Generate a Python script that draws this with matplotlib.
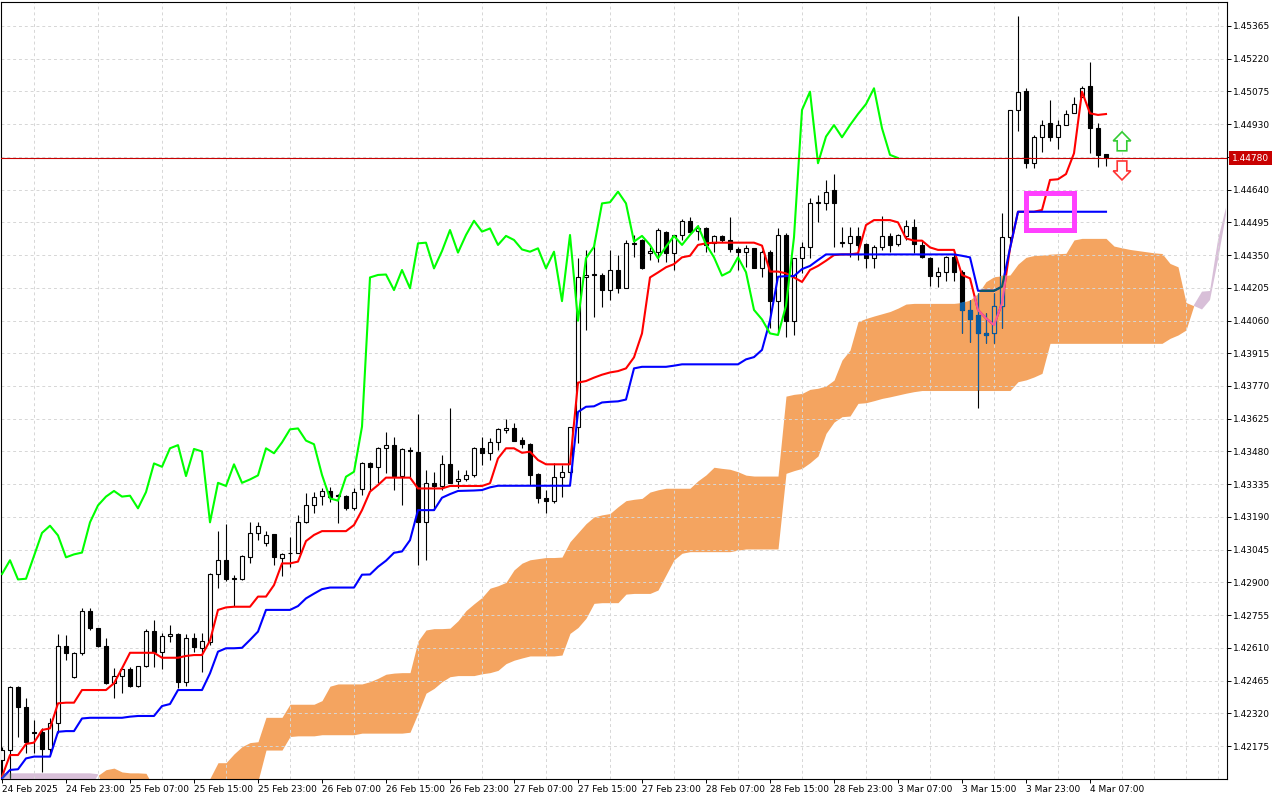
import numpy as np
import matplotlib
matplotlib.use('Agg')
import matplotlib.pyplot as plt
import matplotlib.transforms as mtransforms
from matplotlib.patches import Polygon, Rectangle, PathPatch
from matplotlib.path import Path
from matplotlib.colors import to_rgb

plt.rcParams['font.family'] = ['DejaVu Sans']

# H1 bars from 24 Feb 2025 15:00 to 4 Mar 2025 09:00
opens = [
    1.42113, 1.42157, 1.42435, 1.42349, 1.42236, 1.42235, 1.42160, 1.42275, 1.42619, 1.42482,
    1.42585, 1.42774, 1.42699, 1.42619, 1.42453, 1.42485, 1.42514, 1.42441, 1.42531, 1.42684,
    1.42593, 1.42662, 1.42670, 1.42460, 1.42652, 1.42608, 1.42634, 1.42937, 1.42998, 1.42918,
    1.42915, 1.43014, 1.43119, 1.43073, 1.43113, 1.43008, 1.43030, 1.43029, 1.43166, 1.43241,
    1.43283, 1.43305, 1.43286, 1.43283, 1.43228, 1.43312, 1.43427, 1.43412, 1.43494, 1.43508,
    1.43371, 1.43486, 1.43476, 1.43166, 1.43341, 1.43327, 1.43423, 1.43348, 1.43356, 1.43374,
    1.43494, 1.43472, 1.43520, 1.43575, 1.43582, 1.43531, 1.43512, 1.43380, 1.43272, 1.43262,
    1.43368, 1.43390, 1.43590, 1.44251, 1.44262, 1.44262, 1.44195, 1.44284, 1.44203, 1.44400,
    1.44417, 1.44358, 1.44365, 1.44454, 1.44361, 1.44439, 1.44502, 1.44458, 1.44468, 1.44402,
    1.44435, 1.44417, 1.44375, 1.44365, 1.44380, 1.44291, 1.44365, 1.44146, 1.44439, 1.44059,
    1.44336, 1.44387, 1.44580, 1.44582, 1.44638, 1.44405, 1.44402, 1.44435, 1.44400, 1.44336,
    1.44387, 1.44435, 1.44400, 1.44435, 1.44476, 1.44395, 1.44336, 1.44259, 1.44277, 1.44340,
    1.44274, 1.44107, 1.44085, 1.44003, 1.44003, 1.44125, 1.44429, 1.44993, 1.45079, 1.44760,
    1.44875, 1.44934, 1.44872, 1.44926, 1.44978, 1.45049, 1.45099, 1.44912, 1.44796,
]
highs = [
    1.42170, 1.42441, 1.42441, 1.42389, 1.42290, 1.42253, 1.42297, 1.42670, 1.42667, 1.42590,
    1.42785, 1.42785, 1.42700, 1.42652, 1.42519, 1.42519, 1.42526, 1.42529, 1.42695, 1.42733,
    1.42674, 1.42710, 1.42674, 1.42670, 1.42674, 1.42674, 1.42943, 1.43128, 1.43159, 1.42933,
    1.43021, 1.43169, 1.43169, 1.43129, 1.43113, 1.43029, 1.43102, 1.43198, 1.43294, 1.43299,
    1.43316, 1.43324, 1.43290, 1.43287, 1.43316, 1.43434, 1.43434, 1.43501, 1.43567, 1.43542,
    1.43494, 1.43501, 1.43644, 1.43398, 1.43390, 1.43464, 1.43671, 1.43398, 1.43398, 1.43498,
    1.43542, 1.43538, 1.43585, 1.43624, 1.43604, 1.43542, 1.43516, 1.43383, 1.43309, 1.43427,
    1.43420, 1.43590, 1.44336, 1.44372, 1.44417, 1.44270, 1.44372, 1.44350, 1.44417, 1.44439,
    1.44420, 1.44387, 1.44468, 1.44456, 1.44439, 1.44508, 1.44520, 1.44483, 1.44476, 1.44439,
    1.44439, 1.44520, 1.44385, 1.44395, 1.44382, 1.44372, 1.44372, 1.44468, 1.44447, 1.44336,
    1.44410, 1.44601, 1.44616, 1.44683, 1.44709, 1.44476, 1.44476, 1.44476, 1.44402, 1.44395,
    1.44523, 1.44447, 1.44443, 1.44505, 1.44510, 1.44417, 1.44340, 1.44299, 1.44346, 1.44355,
    1.44284, 1.44151, 1.44181, 1.44092, 1.44181, 1.44535, 1.44993, 1.45409, 1.45089, 1.44882,
    1.44949, 1.45037, 1.44949, 1.44993, 1.45049, 1.45099, 1.45207, 1.44934, 1.44797,
]
lows = [
    1.42032, 1.42032, 1.42216, 1.42142, 1.42142, 1.42061, 1.42142, 1.42231, 1.42556, 1.42478,
    1.42580, 1.42689, 1.42615, 1.42450, 1.42389, 1.42408, 1.42438, 1.42438, 1.42526, 1.42526,
    1.42514, 1.42637, 1.42430, 1.42441, 1.42593, 1.42504, 1.42622, 1.42873, 1.42907, 1.42795,
    1.42910, 1.42984, 1.43088, 1.43061, 1.42977, 1.42928, 1.42970, 1.43029, 1.43161, 1.43206,
    1.43243, 1.43257, 1.43161, 1.43220, 1.43220, 1.43287, 1.43309, 1.43339, 1.43383, 1.43309,
    1.43243, 1.43368, 1.42977, 1.42999, 1.43220, 1.43309, 1.43339, 1.43316, 1.43350, 1.43368,
    1.43420, 1.43442, 1.43486, 1.43560, 1.43526, 1.43494, 1.43331, 1.43250, 1.43206, 1.43250,
    1.43280, 1.43368, 1.43516, 1.44018, 1.44077, 1.44121, 1.44151, 1.44180, 1.44203, 1.44343,
    1.44287, 1.44328, 1.44321, 1.44321, 1.44284, 1.44417, 1.44447, 1.44417, 1.44365, 1.44365,
    1.44410, 1.44365, 1.44284, 1.44299, 1.44291, 1.44254, 1.44025, 1.44003, 1.43989, 1.43996,
    1.44269, 1.44336, 1.44498, 1.44550, 1.44387, 1.44387, 1.44343, 1.44328, 1.44295, 1.44295,
    1.44372, 1.44365, 1.44392, 1.44417, 1.44360, 1.44336, 1.44213, 1.44210, 1.44237, 1.44237,
    1.44003, 1.43966, 1.43671, 1.43962, 1.43959, 1.44025, 1.44400, 1.44901, 1.44734, 1.44734,
    1.44808, 1.44857, 1.44819, 1.44926, 1.44978, 1.45049, 1.44801, 1.44742, 1.44745,
]
closes = [
    1.42157, 1.42438, 1.42346, 1.42194, 1.42234, 1.42160, 1.42275, 1.42619, 1.42585, 1.42585,
    1.42774, 1.42699, 1.42619, 1.42453, 1.42485, 1.42514, 1.42441, 1.42529, 1.42684, 1.42593,
    1.42662, 1.42670, 1.42460, 1.42652, 1.42612, 1.42640, 1.42937, 1.42998, 1.42913, 1.42916,
    1.43017, 1.43119, 1.43151, 1.43108, 1.43011, 1.43024, 1.43032, 1.43166, 1.43241, 1.43280,
    1.43305, 1.43280, 1.43284, 1.43228, 1.43300, 1.43427, 1.43412, 1.43494, 1.43508, 1.43371,
    1.43491, 1.43480, 1.43166, 1.43341, 1.43327, 1.43423, 1.43341, 1.43356, 1.43374, 1.43494,
    1.43472, 1.43520, 1.43578, 1.43582, 1.43528, 1.43512, 1.43376, 1.43272, 1.43262, 1.43368,
    1.43390, 1.43590, 1.44251, 1.44262, 1.44264, 1.44195, 1.44284, 1.44203, 1.44402, 1.44405,
    1.44291, 1.44368, 1.44461, 1.44361, 1.44439, 1.44502, 1.44454, 1.44468, 1.44395, 1.44435,
    1.44417, 1.44375, 1.44365, 1.44380, 1.44291, 1.44365, 1.44146, 1.44439, 1.44059, 1.44336,
    1.44387, 1.44579, 1.44584, 1.44631, 1.44579, 1.44410, 1.44435, 1.44395, 1.44336, 1.44387,
    1.44435, 1.44395, 1.44439, 1.44478, 1.44398, 1.44340, 1.44259, 1.44277, 1.44340, 1.44274,
    1.44107, 1.44065, 1.44003, 1.43996, 1.44125, 1.44429, 1.44993, 1.45074, 1.44757, 1.44875,
    1.44926, 1.44872, 1.44926, 1.44975, 1.45019, 1.45089, 1.44912, 1.44794, 1.44780,
]

# Ichimoku lines
tenkan = [
    1.42039, 1.42135, 1.42135, 1.42184, 1.42190, 1.42246, 1.42253, 1.42364, 1.42367, 1.42367,
    1.42423, 1.42423, 1.42423, 1.42423, 1.42453, 1.42519, 1.42588, 1.42588, 1.42588, 1.42588,
    1.42566, 1.42566, 1.42566, 1.42574, 1.42578, 1.42578, 1.42642, 1.42778, 1.42789, 1.42792,
    1.42792, 1.42792, 1.42837, 1.42837, 1.42888, 1.42984, 1.42984, 1.42992, 1.43083, 1.43110,
    1.43127, 1.43127, 1.43127, 1.43127, 1.43154, 1.43220, 1.43302, 1.43331, 1.43364, 1.43364,
    1.43364, 1.43364, 1.43316, 1.43316, 1.43316, 1.43316, 1.43327, 1.43327, 1.43327, 1.43327,
    1.43327, 1.43339, 1.43449, 1.43494, 1.43494, 1.43474, 1.43479, 1.43442, 1.43423, 1.43423,
    1.43423, 1.43423, 1.43785, 1.43792, 1.43807, 1.43820, 1.43830, 1.43836, 1.43848, 1.43897,
    1.44003, 1.44251, 1.44273, 1.44296, 1.44310, 1.44340, 1.44347, 1.44395, 1.44402, 1.44405,
    1.44405, 1.44405, 1.44405, 1.44405, 1.44405, 1.44392, 1.44277, 1.44277, 1.44269, 1.44251,
    1.44231, 1.44284, 1.44302, 1.44325, 1.44350, 1.44353, 1.44353, 1.44358, 1.44483, 1.44505,
    1.44505, 1.44505, 1.44495, 1.44424, 1.44414, 1.44414, 1.44384, 1.44373, 1.44373, 1.44373,
    1.44262, 1.44247, 1.44107, 1.44070, 1.44040, 1.44136, 1.44380, 1.44542, 1.44542, 1.44542,
    1.44550, 1.44683, 1.44686, 1.44709, 1.44801, 1.45074, 1.44978, 1.44971, 1.44975,
]
kijun = [
    1.42032, 1.42069, 1.42072, 1.42120, 1.42128, 1.42128, 1.42128, 1.42238, 1.42241, 1.42241,
    1.42297, 1.42300, 1.42300, 1.42300, 1.42300, 1.42300, 1.42305, 1.42308, 1.42308, 1.42308,
    1.42352, 1.42361, 1.42423, 1.42423, 1.42423, 1.42423, 1.42497, 1.42593, 1.42608, 1.42608,
    1.42610, 1.42645, 1.42682, 1.42778, 1.42778, 1.42778, 1.42778, 1.42795, 1.42829, 1.42850,
    1.42870, 1.42877, 1.42877, 1.42877, 1.42877, 1.42934, 1.42935, 1.42969, 1.42996, 1.43031,
    1.43037, 1.43087, 1.43220, 1.43220, 1.43220, 1.43275, 1.43291, 1.43305, 1.43306, 1.43307,
    1.43309, 1.43321, 1.43328, 1.43328, 1.43328, 1.43328, 1.43328, 1.43328, 1.43328, 1.43328,
    1.43328, 1.43328, 1.43655, 1.43678, 1.43680, 1.43697, 1.43700, 1.43702, 1.43710, 1.43848,
    1.43855, 1.43855, 1.43855, 1.43855, 1.43860, 1.43866, 1.43866, 1.43866, 1.43866, 1.43866,
    1.43866, 1.43866, 1.43866, 1.43888, 1.43898, 1.43930, 1.44060, 1.44254, 1.44257, 1.44257,
    1.44288, 1.44302, 1.44328, 1.44353, 1.44353, 1.44353, 1.44353, 1.44353, 1.44353, 1.44353,
    1.44353, 1.44353, 1.44353, 1.44353, 1.44353, 1.44353, 1.44353, 1.44353, 1.44353, 1.44353,
    1.44347, 1.44340, 1.44192, 1.44192, 1.44192, 1.44210, 1.44380, 1.44542, 1.44542, 1.44542,
    1.44542, 1.44542, 1.44542, 1.44542, 1.44542, 1.44542, 1.44542, 1.44542, 1.44542,
]
# Senkou spans, already shifted forward (bar 0 .. bar 153)
span_a = (
    [1.41990] * 12
    + [1.42045, 1.42070, 1.42077, 1.42060, 1.42056, 1.42056, 1.42054]
    + [1.41990] * 7
    + [1.42032, 1.42101, 1.42101, 1.42140,
       1.42172, 1.42190, 1.42194, 1.42302, 1.42302, 1.42302, 1.42360, 1.42360, 1.42360, 1.42360,
       1.42376, 1.42440, 1.42450, 1.42450, 1.42450, 1.42450, 1.42460, 1.42475, 1.42493, 1.42498,
       1.42500, 1.42500, 1.42640, 1.42689, 1.42695, 1.42695, 1.42697, 1.42730, 1.42775, 1.42805,
       1.42833, 1.42874, 1.42885, 1.42900, 1.42955, 1.42985, 1.43000, 1.43005, 1.43010, 1.43010,
       1.43012, 1.43080, 1.43120, 1.43160, 1.43190, 1.43199, 1.43205, 1.43235, 1.43262, 1.43268,
       1.43272, 1.43300, 1.43310, 1.43317, 1.43317, 1.43317, 1.43317, 1.43350, 1.43376, 1.43410,
       1.43405, 1.43401, 1.43390, 1.43375, 1.43371, 1.43371, 1.43371, 1.43371, 1.43725, 1.43733,
       1.43737, 1.43755, 1.43760, 1.43770, 1.43796, 1.43885, 1.43929, 1.44055, 1.44069, 1.44080,
       1.44090, 1.44100, 1.44115, 1.44133]
    + [1.44136] * 6
    + [1.44140, 1.44151, 1.44180, 1.44232, 1.44254, 1.44258, 1.44262, 1.44310, 1.44340, 1.44348,
       1.44350, 1.44354, 1.44356, 1.44358, 1.44417, 1.44424, 1.44424, 1.44424, 1.44424, 1.44390,
       1.44382, 1.44375, 1.44370, 1.44365, 1.44360, 1.44357, 1.44313, 1.44298, 1.44140, 1.44125,
       1.44109, 1.44151, 1.44328, 1.44530]
)
span_b = (
    [1.42054] * 12
    + [1.42050]
    + [1.41950] * 19
    + [1.42020, 1.42157, 1.42157, 1.42157, 1.42217, 1.42220, 1.42220, 1.42220]
    + [1.42225] * 5 + [1.42232] * 6
    + [1.42236, 1.42320, 1.42409, 1.42430, 1.42460, 1.42482, 1.42487, 1.42487, 1.42487,
       1.42495, 1.42500, 1.42510, 1.42540, 1.42555, 1.42565, 1.42574, 1.42574, 1.42574, 1.42574,
       1.42578, 1.42674, 1.42700, 1.42741, 1.42807, 1.42810, 1.42810, 1.42810, 1.42848, 1.42851,
       1.42851, 1.42851, 1.42866, 1.42933, 1.43000, 1.43029, 1.43036, 1.43036, 1.43036, 1.43036,
       1.43036, 1.43036, 1.43043, 1.43048, 1.43048, 1.43048, 1.43048, 1.43048, 1.43383, 1.43395,
       1.43405, 1.43430, 1.43460, 1.43560, 1.43610, 1.43634, 1.43637, 1.43693, 1.43696, 1.43705,
       1.43715, 1.43722, 1.43730, 1.43738, 1.43745]
    + [1.43750] * 12
    + [1.43789, 1.43797, 1.43810, 1.43826]
    + [1.43959] * 15
    + [1.43981, 1.43996, 1.44018, 1.44129, 1.44188, 1.44191, 1.44417, 1.44560]
)
CHIKOU_SHIFT = 26
last_price = 1.44780

x_labels = ['24 Feb 2025', '24 Feb 23:00', '25 Feb 07:00', '25 Feb 15:00', '25 Feb 23:00',
            '26 Feb 07:00', '26 Feb 15:00', '26 Feb 23:00', '27 Feb 07:00', '27 Feb 15:00',
            '27 Feb 23:00', '28 Feb 07:00', '28 Feb 15:00', '28 Feb 23:00', '3 Mar 07:00',
            '3 Mar 15:00', '3 Mar 23:00', '4 Mar 07:00']
y_labels = ['1.42175', '1.42320', '1.42465', '1.42610', '1.42755', '1.42900', '1.43045',
            '1.43190', '1.43335', '1.43480', '1.43625', '1.43770', '1.43915', '1.44060',
            '1.44205', '1.44350', '1.44495', '1.44640', '1.44785', '1.44930', '1.45075',
            '1.45220', '1.45365']

SANDY = '#f4a460'
THISTLE = '#d8bfd8'
base_pal = {'k': '#000000', 'w': '#ffffff', 'r': '#ff0000', 'b': '#0000ff', 'g': '#00ff00'}


def xor_col(under, cloud):
    # MetaTrader paints the kumo in xor mode, so whatever lies under it changes colour
    u = np.round(np.array(to_rgb(under)) * 255).astype(int)
    c = np.round(np.array(to_rgb(cloud)) * 255).astype(int)
    return tuple(((255 - u) ^ c) / 255.0)


def draw_layer(ax, pal, clip=None, z=3):
    x = np.arange(len(closes))
    o, h, l, c = (np.array(v) for v in (opens, highs, lows, closes))
    arts = [ax.vlines(x, l, h, colors=[pal['k']], lw=0.8, zorder=z)]
    body = np.maximum(np.abs(c - o), 0.000012)
    face = [pal['w'] if cc >= oo else pal['k'] for oo, cc in zip(o, c)]
    bars = ax.bar(x, body, bottom=np.minimum(o, c), width=0.58, color=face,
                  edgecolor=pal['k'], linewidth=0.8, zorder=z + 0.1)
    arts += list(bars.patches)
    arts += ax.plot(x, tenkan, color=pal['r'], lw=1.5, zorder=z + 0.2)
    arts += ax.plot(x, kijun, color=pal['b'], lw=1.5, zorder=z + 0.3)
    arts += ax.plot(x[:len(c) - CHIKOU_SHIFT], c[CHIKOU_SHIFT:], color=pal['g'], lw=1.5,
                    zorder=z + 0.4)
    if clip is not None:
        for a in arts:
            a.set_clip_path(clip)


fig = plt.figure(figsize=(12.8, 8), dpi=100)
ax = fig.add_axes([1 / 1280, 21 / 800, 1226 / 1280, 777 / 800])
ax.set_xlim(-0.125, 153.125)
ax.set_ylim(1.420288, 1.454713)

# kumo
xs = np.arange(len(span_a))
sa, sb = np.array(span_a), np.array(span_b)
up_kumo = ax.fill_between(xs, sa, sb, where=sa >= sb, interpolate=True, color=SANDY, lw=0, zorder=1)
dn_kumo = ax.fill_between(xs, sa, sb, where=sa < sb, interpolate=True, color=THISTLE, lw=0, zorder=1)

draw_layer(ax, base_pal)
for kumo, col in ((up_kumo, SANDY), (dn_kumo, THISTLE)):
    paths = kumo.get_paths()
    if not paths:
        continue
    clip = PathPatch(Path.make_compound_path(*paths), transform=ax.transData)
    pal = {k: xor_col(v, col) for k, v in base_pal.items()}
    draw_layer(ax, pal, clip=clip, z=5)

# current price
ax.axhline(last_price, color='#c80000', lw=0.8, zorder=8)
trans = mtransforms.blended_transform_factory(ax.transAxes, ax.transData)
ax.text(1.0 + 5 / 1226, last_price, f'{last_price:.5f}', transform=trans, ha='left', va='center',
        color='white', fontsize=6.5, clip_on=False, zorder=20,
        bbox=dict(boxstyle='square,pad=0.3', fc='#c80000', ec='none'))

# highlight box around the kijun flat
ax.add_patch(Rectangle((128.06, 1.44459), 6.0, 1.44627 - 1.44459, fill=False,
                       ec='#ff40ff', lw=3.6, zorder=12))


def arrow_pts(xc, tip, base, tail, hw=1.1, sw=0.6):
    return [(xc, tip), (xc + hw, base), (xc + sw, base), (xc + sw, tail),
            (xc - sw, tail), (xc - sw, base), (xc - hw, base)]


ax.add_patch(Polygon(arrow_pts(140, 1.44896, 1.44856, 1.44812), closed=True,
                     fc='white', ec='#33cc33', lw=1.2, zorder=12))
ax.add_patch(Polygon(arrow_pts(140, 1.44683, 1.44723, 1.44767), closed=True,
                     fc='white', ec='#ff3333', lw=1.2, zorder=12))

# axes, ticks, grid
ax.set_xticks(np.arange(len(x_labels)) * 8)
ax.set_xticklabels(x_labels)
for t in ax.get_xticklabels():
    t.set_ha('left')
ax.set_xticks(np.arange(0, 154, 4), minor=True)
ax.set_yticks([float(s) for s in y_labels])
ax.set_yticklabels(['' if s == '1.44785' else s for s in y_labels])
ax.yaxis.tick_right()
ax.tick_params(axis='y', which='major', direction='out', length=3, width=0.7, pad=1.5,
               labelsize=6.5, colors='black')
ax.tick_params(axis='x', which='major', direction='out', length=3, width=0.7, pad=1.5,
               labelsize=6.5, colors='black')
ax.tick_params(axis='x', which='minor', length=0)
ax.set_axisbelow('line')
ax.grid(True, axis='x', which='minor', color='#d6d6d6', linestyle=(0, (3, 3)), lw=0.7)
ax.grid(True, axis='y', which='major', color='#d6d6d6', linestyle=(0, (3, 3)), lw=0.7)
for s in ax.spines.values():
    s.set_color('black')
    s.set_linewidth(0.8)

fig.savefig('out.png', dpi=100)
